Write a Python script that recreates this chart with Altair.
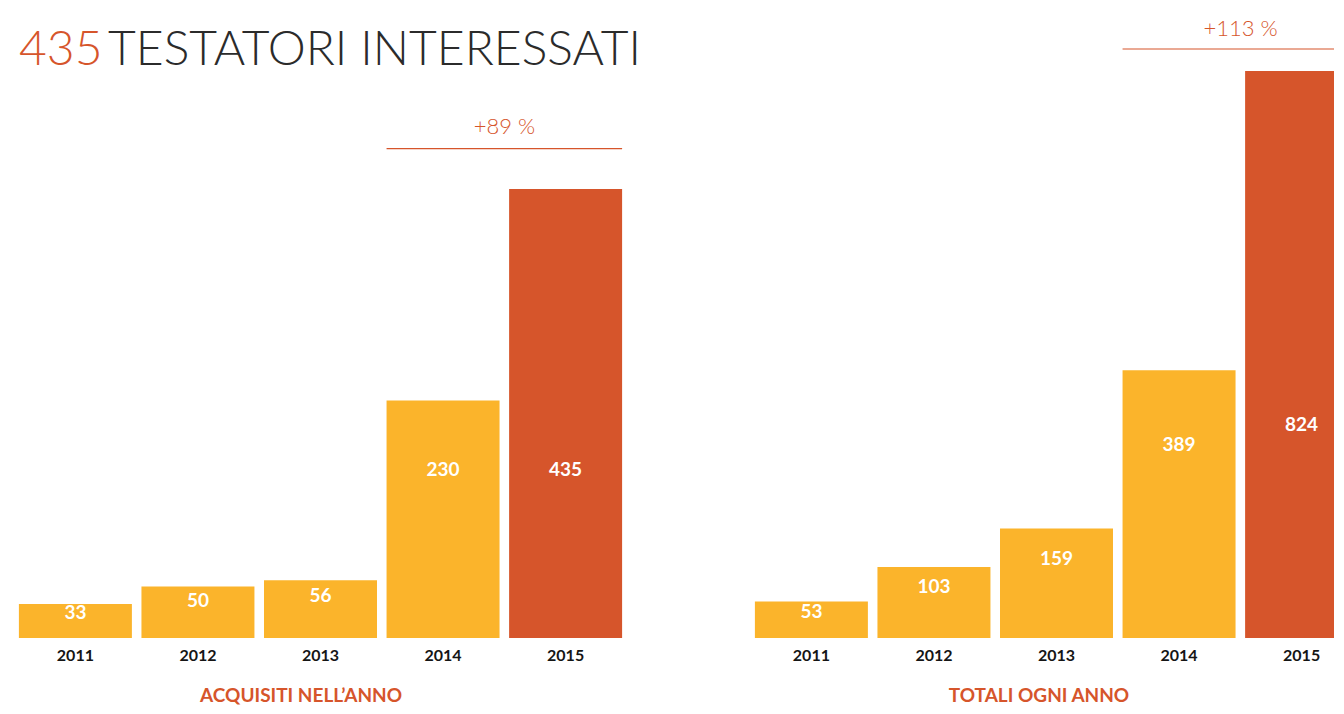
import altair as alt
import pandas as pd

YEARS = ["2011", "2012", "2013", "2014", "2015"]
ACQUISITI = [33, 50, 56, 230, 435]
TOTALI = [53, 103, 159, 389, 824]
HIGHLIGHT = "2015"
SUB_LEFT = "ACQUISITI NELL’ANNO"
SUB_RIGHT = "TOTALI OGNI ANNO"
NOTE_LEFT = "+89 %"
NOTE_RIGHT = "+113 %"
NOTE_FROM = "2014"
NOTE_TO = "2015"
TITLE_NUM = "435"
TITLE_REST = "TESTATORI INTERESSATI"

ORANGE = "#D6552B"
YELLOW = "#FBB42B"
DARK = "#2B2B2B"
FONT = "Lato"
H = 630


def panel(vals, sub, note, width, ydom, xrange, title_x, note_y, rule_y, with_title=False):
    df = pd.DataFrame({"year": YEARS, "value": vals})
    sc = dict(paddingInner=0.078, paddingOuter=0.04)
    if xrange:
        sc["range"] = xrange
    xscale = alt.Scale(**sc)
    yscale = alt.Scale(domain=[0, ydom], nice=False)

    bars = alt.Chart(df).mark_bar(clip=True).encode(
        x=alt.X("year:N", scale=xscale, sort=YEARS, axis=None),
        y=alt.Y("value:Q", scale=yscale, axis=None),
        color=alt.condition(alt.datum.year == HIGHLIGHT, alt.value(ORANGE), alt.value(YELLOW)),
    )
    labels = alt.Chart(df).transform_joinaggregate(vmax="max(value)").transform_calculate(
        label_y="min(datum.value*0.72, datum.vmax*0.375)"
    ).mark_text(color="white", font=FONT, fontSize=19, fontWeight="bold", baseline="middle").encode(
        x=alt.X("year:N", sort=YEARS, axis=None),
        y=alt.Y("label_y:Q", axis=None),
        text="value:Q",
    )
    year_labels = alt.Chart(df).mark_text(color="#151515", font=FONT, fontSize=16, fontWeight="bold",
                                          baseline="top").encode(
        x=alt.X("year:N", sort=YEARS, axis=None),
        y=alt.value(H + 10),
        text="year:N",
    )
    sub_df = pd.DataFrame({"sub": [sub]})
    subtitle = alt.Chart(sub_df).mark_text(color=ORANGE, font=FONT, fontSize=19, fontWeight="bold",
                                           baseline="top", align="center").encode(
        x=alt.value(title_x),
        y=alt.value(H + 49),
        text="sub:N",
    )
    note_df = pd.DataFrame({"a": [NOTE_FROM], "b": [NOTE_TO], "note": [note]})
    rule = alt.Chart(note_df).mark_rule(color=ORANGE, strokeWidth=1.2, clip=True).encode(
        x=alt.X("a:N", bandPosition=0, axis=None),
        x2=alt.X2("b", bandPosition=1),
        y=alt.value(rule_y),
    )
    note_text = alt.Chart(note_df).mark_text(color=ORANGE, font=FONT, fontSize=22, fontWeight=300,
                                             dx=5, baseline="alphabetic").encode(
        x=alt.X("a:N", bandPosition=1, axis=None),
        y=alt.value(note_y),
        text="note:N",
    )
    layers = [bars, labels, year_labels, subtitle, rule, note_text]
    if with_title:
        tdf = pd.DataFrame({"rest": [TITLE_REST], "num": [TITLE_NUM]})
        t1 = alt.Chart(tdf).mark_text(color=ORANGE, font=FONT, fontSize=48, fontWeight=300,
                                      align="left", baseline="alphabetic").encode(
            x=alt.value(5), y=alt.value(57), text="num:N")
        t2 = alt.Chart(tdf).mark_text(color=DARK, font=FONT, fontSize=48, fontWeight=300,
                                      align="left", baseline="alphabetic").encode(
            x=alt.value(94), y=alt.value(57), text="rest:N")
        layers += [t1, t2]
    return alt.layer(*layers).properties(width=width, height=H)


# plot area: page y 8..638 (630 px); px per unit: left 449/435, right 567/824
left = panel(ACQUISITI, SUB_LEFT, NOTE_LEFT, 613, 610.3, None, 287, 126, 140.7, with_title=True)
right = panel(TOTALI, SUB_RIGHT, NOTE_RIGHT, 584, 915.5, [0, 613], 289, 28, 41)

chart = alt.hconcat(left, right, spacing=123, bounds="flush").properties(
    padding={"left": 6, "top": 0, "right": 0, "bottom": 0},
    background="white",
).configure_view(stroke=None)

chart.save("out.html", embed_options={"renderer": "svg", "actions": False})
